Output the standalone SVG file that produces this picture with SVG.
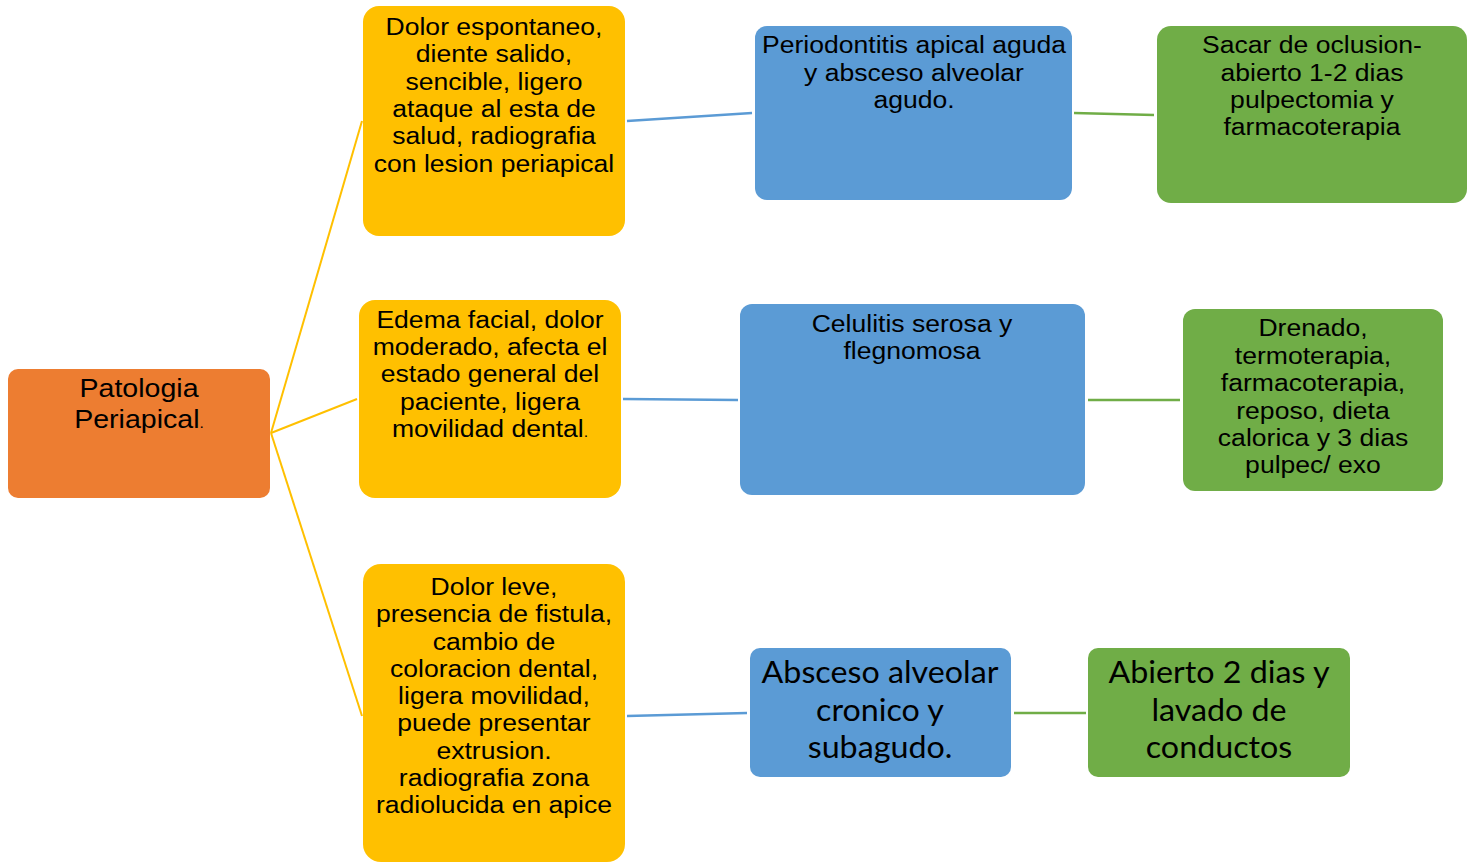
<svg xmlns="http://www.w3.org/2000/svg" width="1473" height="863" viewBox="0 0 1473 863">
<style>
.or{fill:#ED7D31}.ye{fill:#FFC000}.bl{fill:#5B9BD5}.gr{fill:#70AD47}
.t{font-family:"Liberation Sans",Arial,sans-serif;font-size:23.5px;fill:#000;text-anchor:middle}
.c{font-family:Lato,"Open Sans",sans-serif;font-size:31px;fill:#000;text-anchor:middle}
.cy{stroke:#FFC000;stroke-width:2;fill:none}
.cb{stroke:#5B9BD5;stroke-width:2.5;fill:none}
.cg{stroke:#70AD47;stroke-width:2.5;fill:none}
</style>
<rect width="1473" height="863" fill="#fff"/>
<g id="connectors">
<line class="cy" x1="271" y1="433" x2="362" y2="121"/>
<line class="cy" x1="271" y1="433" x2="357" y2="399"/>
<line class="cy" x1="271" y1="433" x2="362" y2="716"/>
<line class="cb" x1="627" y1="121" x2="752" y2="113"/>
<line class="cb" x1="623" y1="399" x2="738" y2="400"/>
<line class="cb" x1="627" y1="716" x2="747" y2="713"/>
<line class="cg" x1="1074" y1="113" x2="1154" y2="115"/>
<line class="cg" x1="1088" y1="400" x2="1180" y2="400"/>
<line class="cg" x1="1014" y1="713" x2="1086" y2="713"/>
</g>
<g id="root">
<rect class="or" x="8" y="369" width="262" height="129" rx="10"/>
<g transform="translate(139 0) scale(1.12 1)">
<text class="t" style="font-size:25.5px"><tspan x="0" y="397">Patologia</tspan><tspan x="0" y="428">Periapical</tspan><tspan style="font-size:14px">.</tspan></text>
</g>
</g>
<g id="sym1">
<rect class="ye" x="363" y="6" width="262" height="230" rx="16"/>
<g transform="translate(494 0) scale(1.13 1)">
<text class="t"><tspan x="0" y="35">Dolor espontaneo,</tspan><tspan x="0" y="62.5">diente salido,</tspan><tspan x="0" y="90">sencible, ligero</tspan><tspan x="0" y="117">ataque al esta de</tspan><tspan x="0" y="144.5">salud, radiografia</tspan><tspan x="0" y="172">con lesion periapical</tspan></text>
</g>
</g>
<g id="sym2">
<rect class="ye" x="359" y="300" width="262" height="198" rx="16"/>
<g transform="translate(490 0) scale(1.13 1)">
<text class="t"><tspan x="0" y="328">Edema facial, dolor</tspan><tspan x="0" y="355">moderado, afecta el</tspan><tspan x="0" y="382.5">estado general del</tspan><tspan x="0" y="410">paciente, ligera</tspan><tspan x="0" y="437">movilidad dental</tspan><tspan style="font-size:14px">.</tspan></text>
</g>
</g>
<g id="sym3">
<rect class="ye" x="363" y="564" width="262" height="298" rx="18"/>
<g transform="translate(494 0) scale(1.13 1)">
<text class="t"><tspan x="0" y="595">Dolor leve,</tspan><tspan x="0" y="622.5">presencia de fistula,</tspan><tspan x="0" y="650">cambio de</tspan><tspan x="0" y="677">coloracion dental,</tspan><tspan x="0" y="704.5">ligera movilidad,</tspan><tspan x="0" y="731.5">puede presentar</tspan><tspan x="0" y="759">extrusion.</tspan><tspan x="0" y="786">radiografia zona</tspan><tspan x="0" y="813">radiolucida en apice</tspan></text>
</g>
</g>
<g id="dx1">
<rect class="bl" x="755" y="26" width="317" height="174" rx="12"/>
<g transform="translate(914 0) scale(1.13 1)">
<text class="t"><tspan x="0" y="53">Periodontitis apical aguda</tspan><tspan x="0" y="81">y absceso alveolar</tspan><tspan x="0" y="108">agudo.</tspan></text>
</g>
</g>
<g id="dx2">
<rect class="bl" x="740" y="304" width="345" height="191" rx="12"/>
<g transform="translate(912 0) scale(1.13 1)">
<text class="t"><tspan x="0" y="332">Celulitis serosa y</tspan><tspan x="0" y="359">flegnomosa</tspan></text>
</g>
</g>
<g id="dx3">
<rect class="bl" x="750" y="648" width="261" height="129" rx="10"/>
<g transform="translate(880 0) scale(1.04 1)">
<text class="c"><tspan x="0" y="683">Absceso alveolar</tspan><tspan x="0" y="721">cronico y</tspan><tspan x="0" y="758">subagudo.</tspan></text>
</g>
</g>
<g id="tx1">
<rect class="gr" x="1157" y="26" width="310" height="177" rx="14"/>
<g transform="translate(1312 0) scale(1.13 1)">
<text class="t"><tspan x="0" y="53">Sacar de oclusion-</tspan><tspan x="0" y="81">abierto 1-2 dias</tspan><tspan x="0" y="108">pulpectomia y</tspan><tspan x="0" y="135">farmacoterapia</tspan></text>
</g>
</g>
<g id="tx2">
<rect class="gr" x="1183" y="309" width="260" height="182" rx="12"/>
<g transform="translate(1313 0) scale(1.13 1)">
<text class="t"><tspan x="0" y="336">Drenado,</tspan><tspan x="0" y="364">termoterapia,</tspan><tspan x="0" y="391">farmacoterapia,</tspan><tspan x="0" y="419">reposo, dieta</tspan><tspan x="0" y="446">calorica y 3 dias</tspan><tspan x="0" y="473">pulpec/ exo</tspan></text>
</g>
</g>
<g id="tx3">
<rect class="gr" x="1088" y="648" width="262" height="129" rx="10"/>
<g transform="translate(1219 0) scale(1.04 1)">
<text class="c"><tspan x="0" y="683">Abierto 2 dias y</tspan><tspan x="0" y="721">lavado de</tspan><tspan x="0" y="758">conductos</tspan></text>
</g>
</g>
</svg>
